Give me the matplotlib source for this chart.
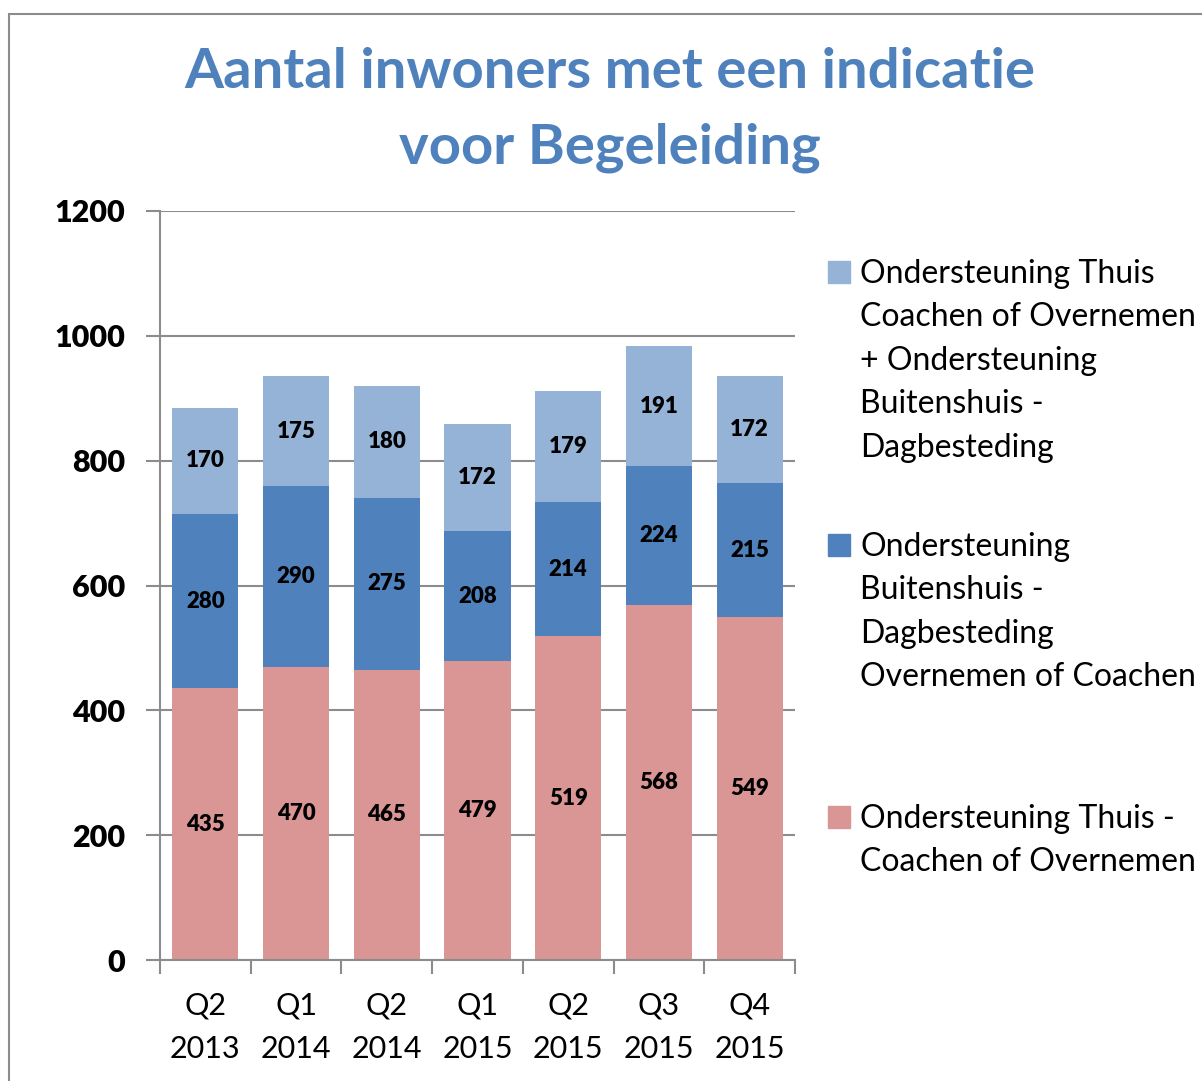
import matplotlib.pyplot as plt
from matplotlib.patches import Rectangle
import numpy as np

plt.rcParams['font.family'] = ['Lato', 'DejaVu Sans']

categories = ['Q2\n2013', 'Q1\n2014', 'Q2\n2014', 'Q1\n2015', 'Q2\n2015', 'Q3\n2015', 'Q4\n2015']
thuis = [435, 470, 465, 479, 519, 568, 549]
buitenshuis = [280, 290, 275, 208, 214, 224, 215]
combinatie = [170, 175, 180, 172, 179, 191, 172]
y_ticks = [0, 200, 400, 600, 800, 1000, 1200]

series_names = [
    'Ondersteuning Thuis\nCoachen of Overnemen\n+ Ondersteuning\nBuitenshuis -\nDagbesteding',
    'Ondersteuning\nBuitenshuis -\nDagbesteding\nOvernemen of Coachen',
    'Ondersteuning Thuis -\nCoachen of Overnemen',
]
colors = ['#95B3D7', '#4F81BD', '#D99694']

W, H = 1202, 1081
fig = plt.figure(figsize=(W / 100, H / 100), dpi=100)

# chart frame
fig.patches.append(Rectangle((9 / W, -0.02), 1.05, 1 - 14 / H + 0.02, transform=fig.transFigure,
                             fill=False, edgecolor='#8c8c8c', lw=1.5))

ax = fig.add_axes([160 / W, 1 - 960 / H, (795 - 160) / W, (960 - 211) / H])

x = np.arange(len(categories))
bw = 0.73
stacks = [thuis, buitenshuis, combinatie]
stack_colors = [colors[2], colors[1], colors[0]]
bottom = np.zeros(len(categories))
for vals, col in zip(stacks, stack_colors):
    vals = np.array(vals)
    ax.bar(x, vals, bw, bottom=bottom, color=col, zorder=2)
    for xi, b, v in zip(x, bottom, vals):
        ax.text(xi, b + v / 2, str(v), ha='center', va='center', fontsize=16,
                fontweight='heavy', color='black', zorder=3)
    bottom = bottom + vals

ax.set_xlim(-0.5, len(categories) - 0.5)
ax.set_ylim(0, 1200)
ax.set_yticks(y_ticks, [str(t) for t in y_ticks], fontsize=22, fontweight='heavy')
ax.yaxis.grid(True, color='#8c8c8c', lw=1.5, zorder=0)
ax.set_axisbelow(True)

for s in ['top', 'right']:
    ax.spines[s].set_visible(False)
for s in ['left', 'bottom']:
    ax.spines[s].set_color('#8c8c8c')
    ax.spines[s].set_linewidth(1.5)

ax.set_xticks(np.arange(-0.5, len(categories), 1.0))
ax.set_xticklabels([])
ax.set_xticks(x, minor=True)
ax.set_xticklabels(categories, minor=True, fontsize=22, linespacing=1.65)
ax.tick_params(axis='x', which='major', length=10, width=1.5, color='#8c8c8c', direction='out')
ax.tick_params(axis='x', which='minor', length=0, pad=23)
ax.tick_params(axis='y', length=10, width=1.5, color='#8c8c8c', pad=15)

fig.text(610 / W, 1 - 110 / H, 'Aantal inwoners met een indicatie\nvoor Begeleiding',
         ha='center', va='center', fontsize=40.5, fontweight='bold', color='#4F81BD',
         linespacing=1.62)

# legend
legend_y = [272, 545, 817]
for name, col, ly in zip(series_names, colors, legend_y):
    fig.patches.append(Rectangle((828 / W, 1 - (ly + 11) / H), 22 / W, 22 / H,
                                 transform=fig.transFigure, color=col))
    fig.text(860 / W, 1 - (ly - 13) / H, name, ha='left', va='top', fontsize=23,
             linespacing=1.56)

fig.savefig('out.png', dpi=100)
